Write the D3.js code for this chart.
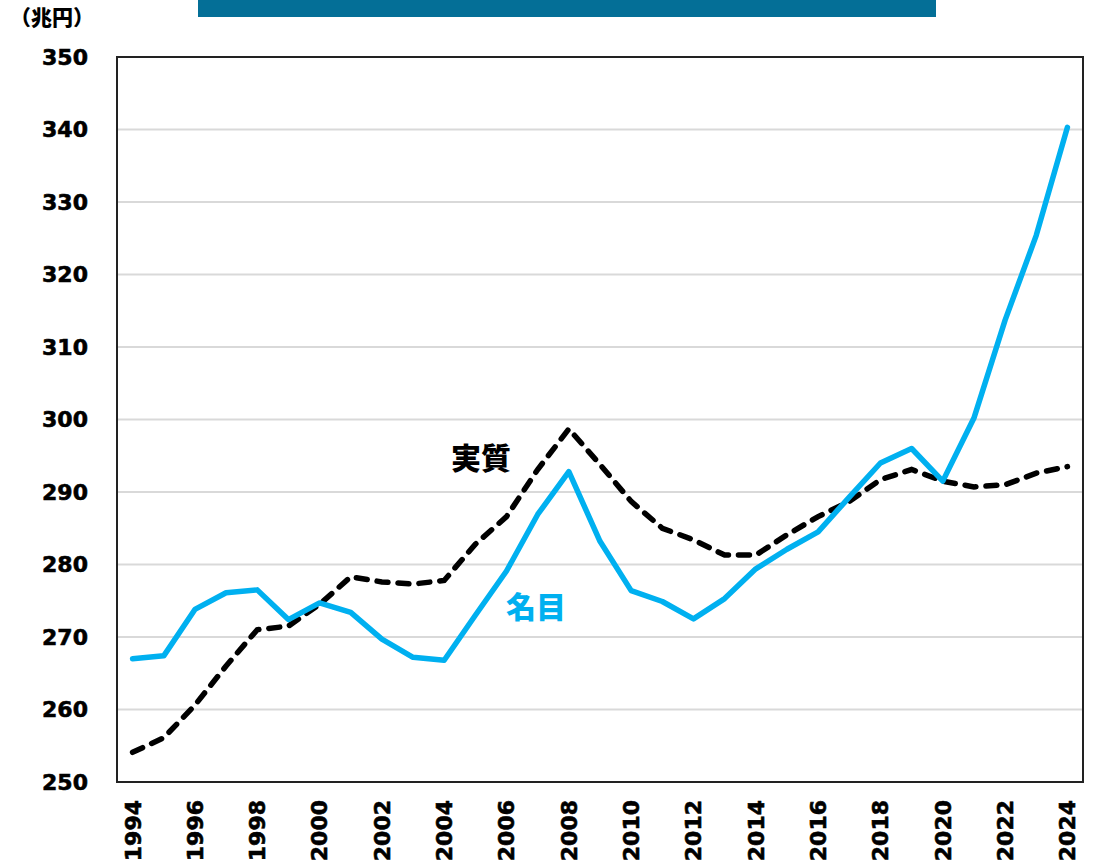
<!DOCTYPE html>
<html>
<head>
<meta charset="utf-8">
<script src="https://cdn.jsdelivr.net/npm/d3@7"></script>
<style>
body { margin: 0; background: #fff; }
svg text { font-family: "DejaVu Sans", Verdana, sans-serif; font-weight: bold; }
</style>
</head>
<body>
<svg width="1102" height="866"></svg>
<script>
// years 1994-2024
var years = d3.range(1994, 2025)
// 名目 (nominal), 兆円
var nominal = [267.0, 267.4, 273.8, 276.1, 276.5, 272.4, 274.7, 273.4, 269.7, 267.2,
               266.8, 273.0, 279.1, 286.9, 292.8, 283.2, 276.4, 274.9, 272.5, 275.3,
               279.4, 282.1, 284.5, 289.3, 294.0, 296.0, 291.5, 300.2, 313.7, 325.4, 340.3]
// 実質 (real), 兆円
var real = [254.1, 256.1, 260.6, 266.0, 271.0, 271.5, 274.5, 278.3, 277.6, 277.3,
            277.8, 282.8, 286.6, 293.1, 298.7, 293.8, 288.7, 285.0, 283.4, 281.3,
            281.3, 284.1, 286.6, 288.7, 291.7, 293.1, 291.5, 290.7, 291.0, 292.6, 293.5]
var yTicks = [250, 260, 270, 280, 290, 300, 310, 320, 330, 340, 350]

var svg = d3.select('svg')
var plotL = 117, plotR = 1083, plotT = 57, plotB = 782

var x = d3.scaleBand().domain(years).range([plotL, plotR])
var y = d3.scaleLinear().domain([250, 350]).range([plotB, plotT])
var cx = function(d) { return x(d) + x.bandwidth()/2 }

// title bar
svg.append('rect').attr('x', 198).attr('y', 0).attr('width', 738).attr('height', 17)
    .attr('fill', '#046f97')

// grid
svg.append('g').selectAll('line').data(yTicks.slice(1, -1)).enter().append('line')
    .attr('x1', plotL).attr('x2', plotR)
    .attr('y1', function(d){return y(d)}).attr('y2', function(d){return y(d)})
    .attr('stroke', '#d9d9d9').attr('stroke-width', 2)

// y labels
svg.append('g').selectAll('text').data(yTicks).enter().append('text')
    .attr('x', 88).attr('y', function(d){return y(d)})
    .attr('dy', '0.36em').attr('text-anchor', 'end')
    .attr('stroke', '#000').attr('stroke-width', 0.6)
    .style('font-size', '22px').text(function(d){return d})

// x labels, every other year
svg.append('g').selectAll('text').data(years.filter(function(d){return d % 2 == 0})).enter().append('text')
    .attr('transform', function(d){return 'translate(' + cx(d) + ',800) rotate(-90)'})
    .attr('dy', '0.36em').attr('text-anchor', 'end')
    .attr('stroke', '#000').attr('stroke-width', 0.6)
    .style('font-size', '22px').text(function(d){return d})

svg.append('text').attr('x', 10).attr('y', 25)
    .style('font-family', '"Noto Sans CJK JP", sans-serif').style('font-size', '21px')
    .style('font-weight', 900)
    .text('（兆円）')

var line = d3.line().x(function(d,i){return cx(years[i])}).y(function(d){return y(d)})

svg.append('path').attr('d', line(real))
    .attr('fill', 'none').attr('stroke', '#000').attr('stroke-width', 5.5)
    .attr('stroke-dasharray', '11,10').attr('stroke-linecap', 'round')

svg.append('path').attr('d', line(nominal))
    .attr('fill', 'none').attr('stroke', '#00b0f0').attr('stroke-width', 5.5)
    .attr('stroke-linejoin', 'round').attr('stroke-linecap', 'round')

// frame
svg.append('rect').attr('x', plotL).attr('y', plotT).attr('width', plotR-plotL).attr('height', plotB-plotT)
    .attr('fill', 'none').attr('stroke', '#222').attr('stroke-width', 2)

svg.append('text').attr('x', 451).attr('y', 469)
    .style('font-family', '"Noto Sans CJK JP", sans-serif').style('font-size', '30px')
    .style('font-weight', 900)
    .attr('fill', '#000').text('実質')
svg.append('text').attr('x', 506).attr('y', 618)
    .style('font-family', '"Noto Sans CJK JP", sans-serif').style('font-size', '30px')
    .style('font-weight', 900)
    .attr('fill', '#00b0f0').text('名目')
</script>
</body>
</html>
